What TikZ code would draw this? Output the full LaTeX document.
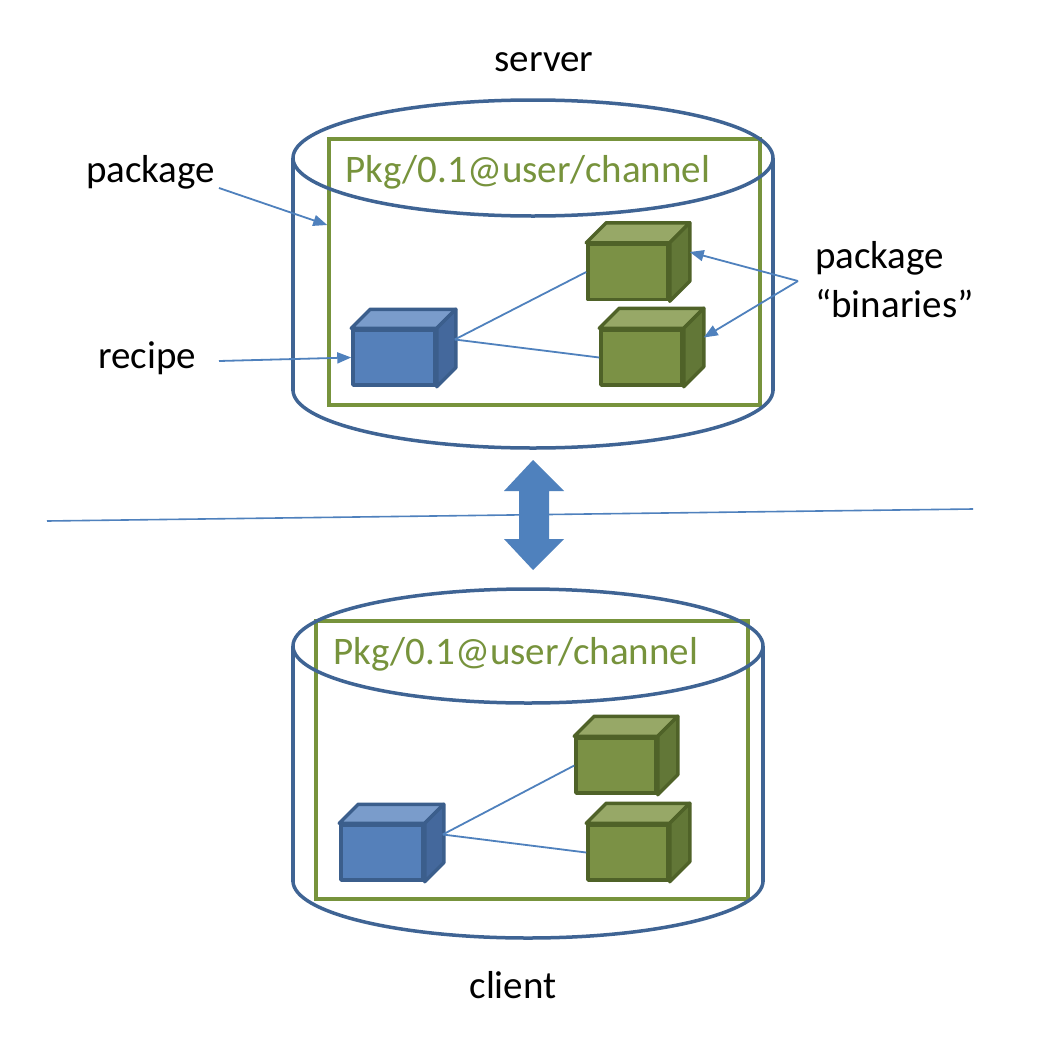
\documentclass[tikz,border=0pt]{standalone}
\usepackage{fontspec}
\setmainfont{Carlito}
\usetikzlibrary{arrows.meta,calc}
\definecolor{cylc}{HTML}{3F6494}
\definecolor{grn}{HTML}{77933C}
\definecolor{conc}{HTML}{4F81BD}
\definecolor{bfr}{HTML}{5580BA}
\definecolor{btop}{HTML}{7A9CCB}
\definecolor{bside}{HTML}{44689C}
\definecolor{bout}{HTML}{3B5E8C}
\definecolor{gfr}{HTML}{7B9145}
\definecolor{gtop}{HTML}{97A867}
\definecolor{gside}{HTML}{627737}
\definecolor{gout}{HTML}{4F6228}
\newcommand\cubefaces[5]{%
  \draw[draw=#4, line width=3.5pt, line join=round, fill=#2]
    (#1.north west) -- ++(#5,-#5) -- ($(#1.north east)+(#5,-#5)$) -- (#1.north east) -- cycle;
  \draw[draw=#4, line width=3.5pt, line join=round, fill=#3]
    (#1.north east) -- ($(#1.north east)+(#5,-#5)$) -- ($(#1.south east)+(#5,-#5)$) -- (#1.south east) -- cycle;
}
\begin{document}
\begin{tikzpicture}[x=1pt,y=-1pt,
  lbl/.style={font=\fontsize{39}{47}\selectfont, text=black, inner sep=0pt},
  pkgtxt/.style={lbl, text=grn},
  cylline/.style={draw=cylc, line width=3.5pt},
  pkgbox/.style={draw=grn, line width=3.5pt, inner sep=0pt},
  conn/.style={draw=conc, line width=1.8pt},
  ptr/.style={conn, -{Triangle[length=14pt,width=11pt]}},
  bcube/.style={draw=bout, fill=bfr, line width=3.5pt, minimum width=82pt, minimum height=55pt, inner sep=0pt, line join=round},
  gcube/.style={draw=gout, fill=gfr, line width=3.5pt, minimum width=80pt, minimum height=55pt, inner sep=0pt, line join=round},
  bigarrow/.style={fill=conc, draw=none}
]
\fill[white] (0,0) rectangle (1048,1060);
\useasboundingbox (0,0) rectangle (1048,1060);

% ---------- server ----------
\node[lbl, anchor=base] (srvlbl) at (544,71) {server};
\node[pkgbox, minimum width=431pt, minimum height=266pt] (box1) at (544.5,272) {};
\draw[cylline] (533,158) ellipse [x radius=240, y radius=58];
\draw[cylline] (293,158) -- (293,391);
\draw[cylline] (773,158) -- (773,391);
\begin{scope}
  \clip (270,390) rectangle (800,470);
  \draw[cylline] (533,390) ellipse [x radius=240, y radius=58];
\end{scope}
\node[pkgtxt, anchor=base west] (pkgname1) at (345,182) {Pkg/0.1@user/channel};

\node[bcube] (r1) at (394,357.5) {};
\cubefaces{r1}{btop}{bside}{bout}{19}
\node[gcube] (g1) at (628,272) {};
\cubefaces{g1}{gtop}{gside}{gout}{20}
\node[gcube, minimum width=81pt] (g2) at (641.5,357.5) {};
\cubefaces{g2}{gtop}{gside}{gout}{20}

\coordinate (r1c) at ($(r1.east)+(18,-18)$);
\draw[conn] (r1c) -- (g1.west);
\draw[conn] (r1c) -- (g2.west);

\node[lbl, anchor=base west] (pkglbl) at (86,182) {package};
\node[lbl, anchor=base west] (reclbl) at (98,368) {recipe};
\node[lbl, anchor=base west] (binlbl1) at (815,268) {package};
\node[lbl, anchor=base west] (binlbl2) at (815,317) {“binaries”};

\coordinate (pa) at (219,188);
\coordinate (ra) at (219,361);
\coordinate (bj) at (798,281);
\draw[ptr] (pa) -- ($(box1.west)+(0,-47)$);
\draw[ptr] (ra) -- (r1.west);
\draw[ptr] (bj) -- ($(g1.east)+(20,-20)$);
\draw[ptr] (bj) -- ($(g2.east)+(20,-20)$);

% ---------- separator and transfer arrow ----------
\fill[bigarrow] (533,460) -- (564,491) -- (549,491) -- (549,539) -- (564,539)
  -- (533,570) -- (504,539) -- (519,539) -- (519,491) -- (504,491) -- cycle;
\coordinate (sepl) at (47,521);
\coordinate (sepr) at (973,509);
\draw[conn, line width=1.6pt] (sepl) -- (sepr);

% ---------- client ----------
\node[pkgbox, minimum width=432pt, minimum height=278pt] (box2) at (532,760) {};
\draw[cylline] (528,646) ellipse [x radius=235, y radius=57];
\draw[cylline] (293,646) -- (293,882);
\draw[cylline] (763,646) -- (763,882);
\begin{scope}
  \clip (270,881) rectangle (800,960);
  \draw[cylline] (528,881) ellipse [x radius=235, y radius=57];
\end{scope}
\node[pkgtxt, anchor=base west] (pkgname2) at (333,664) {Pkg/0.1@user/channel};

\node[bcube] (r2) at (382,852.5) {};
\cubefaces{r2}{btop}{bside}{bout}{19}
\node[gcube] (g3) at (616,765.5) {};
\cubefaces{g3}{gtop}{gside}{gout}{20}
\node[gcube] (g4) at (628,852.5) {};
\cubefaces{g4}{gtop}{gside}{gout}{20}

\coordinate (r2c) at ($(r2.east)+(18,-18)$);
\draw[conn] (r2c) -- (g3.west);
\draw[conn] (r2c) -- (g4.west);

\node[lbl, anchor=base] (clilbl) at (513,998) {client};
\end{tikzpicture}
\end{document}
